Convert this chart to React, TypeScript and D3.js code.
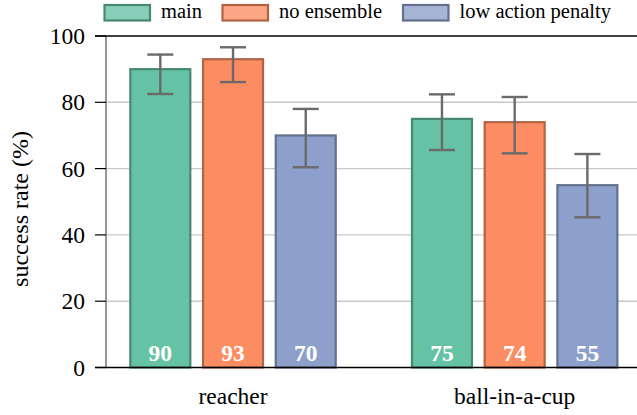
import React from "react";
import * as d3 from "d3";

// Tasks along the x axis
const categories = ["reacher", "ball-in-a-cup"];
// Variants compared for each task
const seriesNames = ["main", "no ensemble", "low action penalty"];
const seriesColors = ["#66c2a5", "#fc8d62", "#8da0cb"];
// Success rate (%) per variant, one entry per task
const mainValues = [90, 75];
const noEnsembleValues = [93, 74];
const lowPenaltyValues = [70, 55];
// Error bar extents (lower, upper) per variant and task
const mainErr = [[82.5, 94.4], [65.6, 82.4]];
const noEnsembleErr = [[86.1, 96.6], [64.6, 81.6]];
const lowPenaltyErr = [[60.4, 78.0], [45.3, 64.4]];
const yTicks = [0, 20, 40, 60, 80, 100];

const seriesValues = [mainValues, noEnsembleValues, lowPenaltyValues];
const seriesErr = [mainErr, noEnsembleErr, lowPenaltyErr];

const W = 637;
const H = 415;
const FONT = '"Liberation Serif", LiberationSerif, Tinos, "Nimbus Roman", "Noto Serif", "DejaVu Serif", serif';
const txt = { fontFamily: FONT };

export default function App() {
  const left = 106;
  const right = 641.7;
  const top = 36;
  const bottom = 367.5;

  const x = d3.scalePoint<string>().domain(categories).range([left, right]).padding(0.451);
  const inner = d3
    .scaleBand<string>()
    .domain(seriesNames)
    .range([-102.7, 102.7])
    .paddingInner(0.175)
    .paddingOuter(0);
  const y = d3.scaleLinear().domain([0, 100]).range([bottom, top]);

  const legendX = [104.5, 222.5, 403];

  return (
    <svg
      width={W}
      height={H}
      style={{ position: "absolute", left: 0, top: 0, background: "#fff", fontFamily: FONT }}
    >
      {/* grid lines */}
      {yTicks
        .filter((t) => t > 0 && t < 100)
        .map((t) => (
          <line key={"g" + t} x1={left} x2={W} y1={y(t)} y2={y(t)} stroke="#c8c8c8" strokeWidth={1.4} />
        ))}

      {/* bars */}
      {seriesNames.map((s, si) =>
        categories.map((c, ci) => {
          const v = seriesValues[si][ci];
          const bx = (x(c) as number) + (inner(s) as number);
          const col = d3.color(seriesColors[si])!;
          return (
            <rect
              key={s + c}
              x={bx}
              y={y(v)}
              width={inner.bandwidth()}
              height={y(0) - y(v)}
              fill={seriesColors[si]}
              stroke={col.darker(1).formatHex()}
              strokeWidth={2.2}
            />
          );
        })
      )}

      {/* error bars */}
      {seriesNames.map((s, si) =>
        categories.map((c, ci) => {
          const [lo, hi] = seriesErr[si][ci];
          const cx = (x(c) as number) + (inner(s) as number) + inner.bandwidth() / 2;
          const cap = 13;
          return (
            <g key={"e" + s + c} stroke="#6a6a6a" strokeWidth={2.4}>
              <line x1={cx} x2={cx} y1={y(lo)} y2={y(hi)} />
              <line x1={cx - cap} x2={cx + cap} y1={y(lo)} y2={y(lo)} />
              <line x1={cx - cap} x2={cx + cap} y1={y(hi)} y2={y(hi)} />
            </g>
          );
        })
      )}

      {/* value labels */}
      {seriesNames.map((s, si) =>
        categories.map((c, ci) => {
          const v = seriesValues[si][ci];
          const cx = (x(c) as number) + (inner(s) as number) + inner.bandwidth() / 2;
          return (
            <text
              key={"v" + s + c}
              x={cx}
              y={bottom - 6.5}
              textAnchor="middle"
              fill="#fff"
              fontWeight="bold"
              fontSize={23.5}
              style={txt}
            >
              {v}
            </text>
          );
        })
      )}

      {/* frame: left axis, top and bottom lines */}
      <line x1={left} x2={left} y1={top} y2={bottom} stroke="#6a6a6a" strokeWidth={1.4} />
      <line x1={95} x2={W} y1={top} y2={top} stroke="#000" strokeWidth={1.4} />
      <line x1={95} x2={W} y1={bottom} y2={bottom} stroke="#000" strokeWidth={1.4} />

      {/* y ticks */}
      {yTicks.map((t) => (
        <g key={"t" + t}>
          <line x1={95} x2={left} y1={y(t)} y2={y(t)} stroke="#000" strokeWidth={1.2} />
          <text x={85} y={y(t) + 8} textAnchor="end" fontSize={23.5} fill="#000" style={txt}>
            {t}
          </text>
        </g>
      ))}

      {/* y axis title */}
      <text
        transform={`translate(28,209) rotate(-90)`}
        textAnchor="middle"
        fontSize={24}
        fill="#000"
        style={txt}
      >
        success rate (%)
      </text>

      {/* category labels */}
      {categories.map((c) => (
        <text
          key={"c" + c}
          x={x(c) as number}
          y={404}
          textAnchor="middle"
          fontSize={23.5}
          fill="#000"
          style={txt}
        >
          {c}
        </text>
      ))}

      {/* legend */}
      {seriesNames.map((s, si) => {
        const col = d3.color(seriesColors[si])!;
        return (
          <g key={"l" + s} transform={`translate(${legendX[si]},0)`}>
            <rect
              x={0}
              y={5}
              width={45.5}
              height={15.5}
              fill={seriesColors[si]}
              fillOpacity={0.78}
              stroke={col.darker(1).formatHex()}
              strokeWidth={2.2}
            />
            <text x={56.5} y={18} fontSize={20.5} fill="#000" style={txt}>
              {s}
            </text>
          </g>
        );
      })}
    </svg>
  );
}
